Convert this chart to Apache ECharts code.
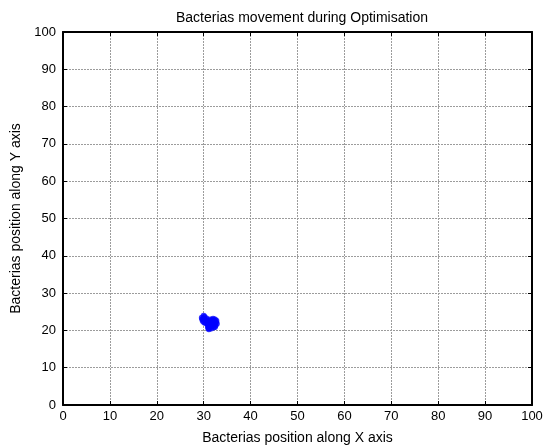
<!DOCTYPE html>
<html>
<head>
<meta charset="utf-8">
<script src="https://cdn.jsdelivr.net/npm/echarts@6/dist/echarts.min.js"></script>
<style>
  html, body { margin: 0; padding: 0; background: #fff; }
  #chart { width: 545px; height: 445px; }
</style>
</head>
<body>
<div id="chart"></div>
<script>
// Axis ticks
const xTicks = [0, 10, 20, 30, 40, 50, 60, 70, 80, 90, 100];
const yTicks = [0, 10, 20, 30, 40, 50, 60, 70, 80, 90, 100];

// Bacteria positions at the end of optimisation
const bacteriaX = [29.6, 29.9, 30.2, 30.5, 29.8, 30.1, 30.6, 30.8, 30.0, 29.7, 30.4,
                   30.8, 31.0, 31.2, 31.4, 31.0, 31.5, 31.7, 31.3, 30.9, 31.1,
                   31.9, 32.2, 32.4, 32.0, 32.3, 32.6, 31.8, 32.1, 32.5, 31.6, 32.7,
                   32.8, 32.0, 31.4, 32.4];
const bacteriaY = [23.4, 23.0, 23.6, 22.8, 22.5, 22.1, 23.2, 22.4, 23.9, 23.0, 22.0,
                   21.8, 21.3, 22.0, 21.0, 20.6, 21.6, 22.3, 22.6, 21.0, 20.3,
                   22.8, 22.5, 22.9, 21.5, 21.7, 22.2, 21.2, 20.8, 21.3, 20.5, 22.6,
                   21.8, 23.1, 22.9, 20.9];

const points = bacteriaX.map((x, i) => [x, bacteriaY[i]]);

const font = 'Liberation Sans, Arial, sans-serif';
const gridLine = { show: true, lineStyle: { color: '#9c9c9c', type: [2, 1], width: 1 } };
const tick = { show: true, inside: true, length: 4, lineStyle: { color: '#000' } };
const frame = { show: true, onZero: false, lineStyle: { color: '#000', width: 2 } };

const chart = echarts.init(document.getElementById('chart'));
chart.setOption({
  backgroundColor: '#fff',
  animation: false,
  title: {
    text: 'Bacterias movement during Optimisation',
    left: 297, top: 6, textAlign: 'center',
    textStyle: { fontFamily: font, fontSize: 14, fontWeight: 'normal', color: '#000' }
  },
  grid: { left: 63, top: 32, width: 469, height: 373, outerBoundsMode: 'none', containLabel: false },
  xAxis: [{
    type: 'value', min: xTicks[0], max: xTicks[xTicks.length - 1], interval: 10,
    name: 'Bacterias position along X axis', nameLocation: 'middle', nameGap: 26,
    nameTextStyle: { fontFamily: font, fontSize: 14, color: '#000' },
    axisLine: frame,
    axisTick: tick,
    axisLabel: { fontFamily: font, fontSize: 13, color: '#000', margin: 5 },
    splitLine: gridLine
  }, {
    type: 'value', position: 'top', min: 0, max: 100, interval: 10,
    axisLine: frame,
    axisTick: tick, axisLabel: { show: false }, splitLine: { show: false }
  }],
  yAxis: [{
    type: 'value', min: yTicks[0], max: yTicks[yTicks.length - 1], interval: 10,
    name: 'Bacterias position along Y axis', nameLocation: 'middle', nameGap: 38,
    nameTextStyle: { fontFamily: font, fontSize: 14, color: '#000' },
    axisLine: frame,
    axisTick: tick,
    axisLabel: { fontFamily: font, fontSize: 13, color: '#000', margin: 7 },
    splitLine: gridLine
  }, {
    type: 'value', position: 'right', min: 0, max: 100, interval: 10,
    axisLine: frame,
    axisTick: tick, axisLabel: { show: false }, splitLine: { show: false }
  }],
  series: [{
    type: 'scatter',
    data: points,
    symbol: 'circle',
    symbolSize: 6,
    itemStyle: { color: '#0000ff' }
  }]
});
</script>
</body>
</html>
